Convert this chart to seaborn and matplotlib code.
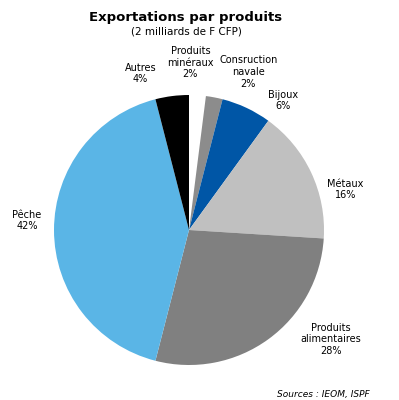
import matplotlib
matplotlib.use("Agg")
import matplotlib.pyplot as plt
import seaborn as sns

# Data (clockwise from 12 o'clock)
categories = ["Produits\nminéraux", "Consruction\nnavale", "Bijoux", "Métaux",
              "Produits\nalimentaires", "Pêche", "Autres"]
values = [2, 2, 6, 16, 28, 42, 4]
colors = ["#FFFFFF", "#8C8C8C", "#0056A6", "#C0C0C0", "#808080", "#5AB5E6", "#000000"]

# label centres in axes-data coordinates (layout only)
label_pos = [(0.01, 1.24), (0.44, 1.17), (0.70, 0.96), (1.16, 0.30),
             (1.05, -0.81), (-1.20, 0.07), (-0.36, 1.16)]

sns.set_theme(style="white")
plt.rcParams['font.family'] = ['DejaVu Sans']
plt.rcParams['text.color'] = 'black'

fig = plt.figure(figsize=(3.99, 4.0), dpi=100)
ax = fig.add_axes([(189 - 135) / 399, (400 - 365) / 400, 270 / 399, 270 / 400])
wedges, _ = ax.pie(values, colors=colors, startangle=90, counterclock=False,
                   radius=1.0, wedgeprops=dict(linewidth=0))
ax.set_xlim(-1, 1)
ax.set_ylim(-1, 1)
ax.set_aspect("equal")
ax.axis("off")

for cat, val, (x, y) in zip(categories, values, label_pos):
    ax.text(x, y, f"{cat}\n{val}%", ha="center", va="center", fontsize=7,
            linespacing=1.2, color="black", clip_on=False)

fig.text(186 / 399, 1 - 17 / 400, "Exportations par produits", ha="center", va="center",
         fontsize=9.5, fontweight="bold", color="black")
fig.text(186 / 399, 1 - 32 / 400, "(2 milliards de F CFP)", ha="center", va="center",
         fontsize=7.5, color="black")
fig.text(370 / 399, 1 - 394 / 400, "Sources : IEOM, ISPF", ha="right", va="center",
         fontsize=6.5, style="italic", color="black")

fig.savefig("out.png", dpi=100)
